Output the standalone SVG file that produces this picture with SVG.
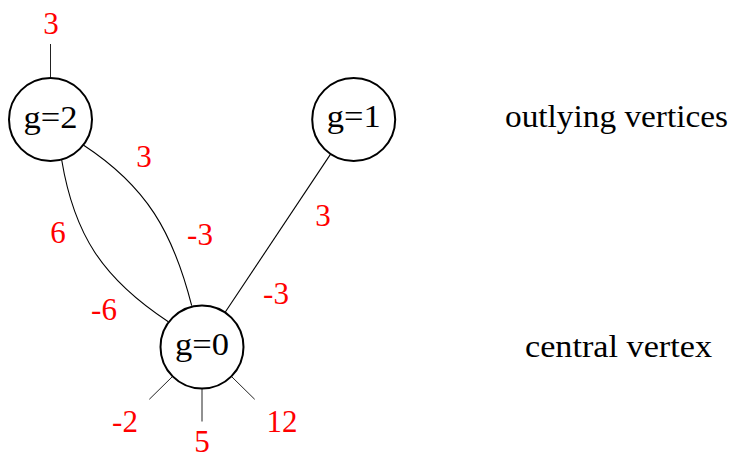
<svg xmlns="http://www.w3.org/2000/svg" width="732" height="452" viewBox="0 0 732 452">
<style>
.node{fill:#fff;stroke:#000;stroke-width:2}
.edge{fill:none;stroke:#000;stroke-width:1.1}
.stub{fill:none;stroke:#222;stroke-width:1}
.lbl{fill:#000;text-anchor:middle}
.w{fill:#ff0000;text-anchor:middle}
.side{fill:#000}
</style>
<rect width="732" height="452" fill="#fff"/>
<g id="connectors">
<path class="edge" d="M83.3,145 C146.7,186.4 173,232.4 191.7,305.7"/>
<path class="edge" d="M61.7,160 C74,234 102,278 168.3,321.7"/>
<path class="edge" d="M330.4,154.4 L225,312.5"/>
<path class="stub" d="M50.5,77.5 L50.5,44"/>
<path class="stub" d="M202,388.5 L202,421.5"/>
<path class="stub" d="M172.7,376.3 L149.3,399.3"/>
<path class="stub" d="M231.3,376.3 L254.7,399.3"/>
</g>
<g font-family="'Liberation Serif', 'DejaVu Serif', serif" font-size="31">
<g id="weights">
<text class="w" x="51" y="34">3</text>
<text class="w" x="144" y="167">3</text>
<text class="w" x="200" y="245">-3</text>
<text class="w" x="58" y="243">6</text>
<text class="w" x="104" y="320">-6</text>
<text class="w" x="323" y="226">3</text>
<text class="w" x="276" y="304">-3</text>
<text class="w" x="125" y="432">-2</text>
<text class="w" x="202" y="452">5</text>
<text class="w" x="282" y="432">12</text>
</g>
<g id="node-g2">
<circle class="node" cx="50.5" cy="119.5" r="41.5"/>
<text class="lbl" x="50.5" y="128" textLength="54" lengthAdjust="spacingAndGlyphs">g=2</text>
</g>
<g id="node-g1">
<circle class="node" cx="353.7" cy="119.5" r="41.5"/>
<text class="lbl" x="353.7" y="127" textLength="54" lengthAdjust="spacingAndGlyphs">g=1</text>
</g>
<g id="node-g0">
<circle class="node" cx="202" cy="347" r="41.5"/>
<text class="lbl" x="202" y="354.5" textLength="54" lengthAdjust="spacingAndGlyphs">g=0</text>
</g>
<g id="label-outlying">
<text class="side" x="505" y="127" textLength="223" lengthAdjust="spacingAndGlyphs">outlying vertices</text>
</g>
<g id="label-central">
<text class="side" x="525" y="357" textLength="187" lengthAdjust="spacingAndGlyphs">central vertex</text>
</g>
</g>
</svg>
